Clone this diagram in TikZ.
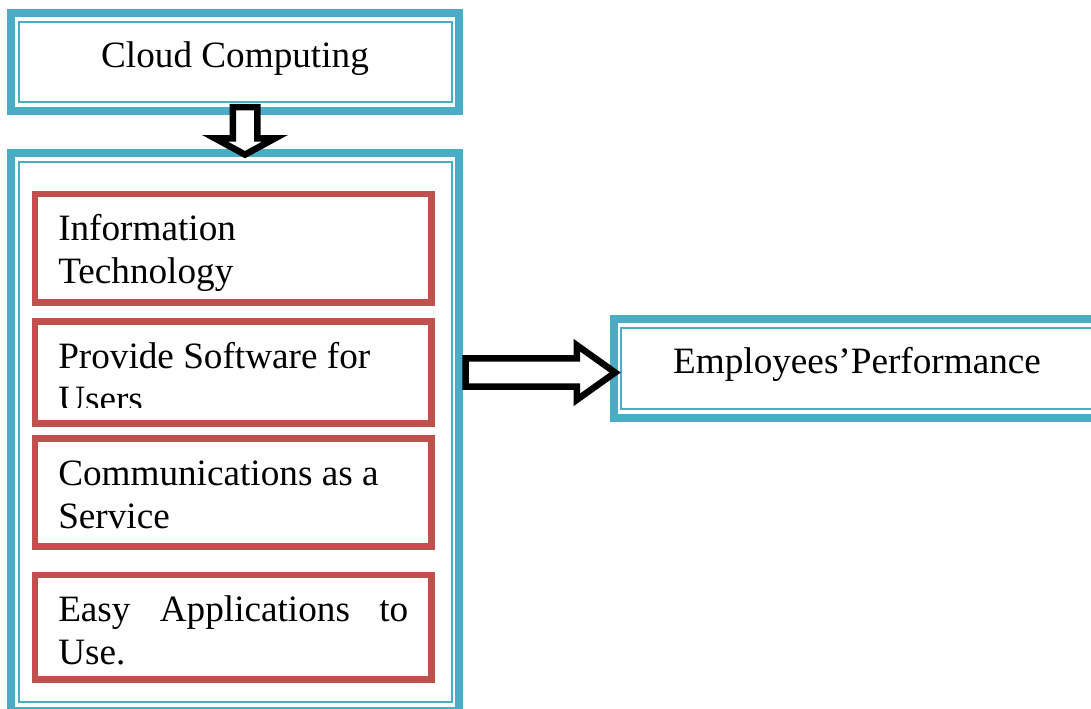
\documentclass[tikz,border=0pt]{standalone}
\usepackage{fontspec}
\setmainfont{Liberation Serif}
\usepackage{tikz}
\usetikzlibrary{shapes.arrows, positioning, calc}
\definecolor{frameblue}{HTML}{4BACC6}
\definecolor{itemred}{HTML}{C0504D}
\hyphenpenalty=10000

\begin{document}
\begin{tikzpicture}[
        x=0.5pt, y=-0.5pt,
        font=\fontsize{18.6pt}{21.5pt}\selectfont,
        outerbox/.style={
            draw=frameblue,
            line width=4pt,
            inner sep=0pt,
            outer sep=0pt
        },
        innerline/.style={
            draw=frameblue,
            line width=1pt
        },
        itembox/.style={
            draw=itemred,
            line width=3.25pt,
            text width=175pt,
            inner xsep=11.625pt,
            inner ysep=0pt,
            outer sep=0pt,
            text height=23.25pt,
            align=flush left
        },
        blockarrow/.style={
            single arrow,
            draw=black,
            fill=white,
            line width=3.25pt,
            inner sep=0pt,
            outer sep=0pt,
            text depth=0pt,
            minimum width=0pt
        }
    ]

    \useasboundingbox (0,0) rectangle (1091,708);
    \clip (0,0) rectangle (1091,708);

    % frames
    \node[outerbox, minimum width=224pt, minimum height=48.75pt, text height=13pt, text depth=7.75pt] (cloud) at (235,61.75) {Cloud Computing};
    \node[outerbox, minimum width=224pt, minimum height=279.25pt] (frame) at (235,431.75) {};
    \node[outerbox, minimum width=243.5pt, minimum height=49.25pt, text height=12.5pt, text depth=7.75pt] (emp) at (857,368.25) {Employees’Performance};

    \foreach \n in {cloud, frame, emp}
        \draw[innerline] ([shift={(7.5,9)}]\n.north west) rectangle ([shift={(-7.5,-9)}]\n.south east);

    % items
    \node[itembox, text depth=31pt, below=20.75pt of frame.north, xshift=-0.875pt] (infotech) {Information Technology};
    \begin{scope}
        \clip (0,0) rectangle (1091,407.5);
        \node[itembox, text depth=27.75pt, below=9.6pt of infotech] (software) {Provide Software for Users};
    \end{scope}
    \draw[itemred, line width=3.25pt] (software.south west) rectangle (software.north east);
    \node[itembox, text depth=30.75pt, below=7.5pt of software] (commserv) {Communications as a Service};
    \node[itembox, text depth=29pt, below=14.25pt of commserv, align=justify] (easyapps) {Easy Applications to Use.};

    % arrows
    \node[blockarrow, rotate=-90, anchor=tail, text height=9pt, minimum height=23.8pt,
        single arrow head extend=8.875pt, single arrow tip angle=123] (downarrow) at ([shift={(10,-3.5)}]cloud.south) {};
    \node[blockarrow, anchor=tail, text height=10.95pt, minimum height=74.8pt,
        single arrow head extend=6.575pt, single arrow tip angle=71] (rightarrow) at ($(frame.east |- emp.west)+(6.5,4.25)$) {};

\end{tikzpicture}
\end{document}
